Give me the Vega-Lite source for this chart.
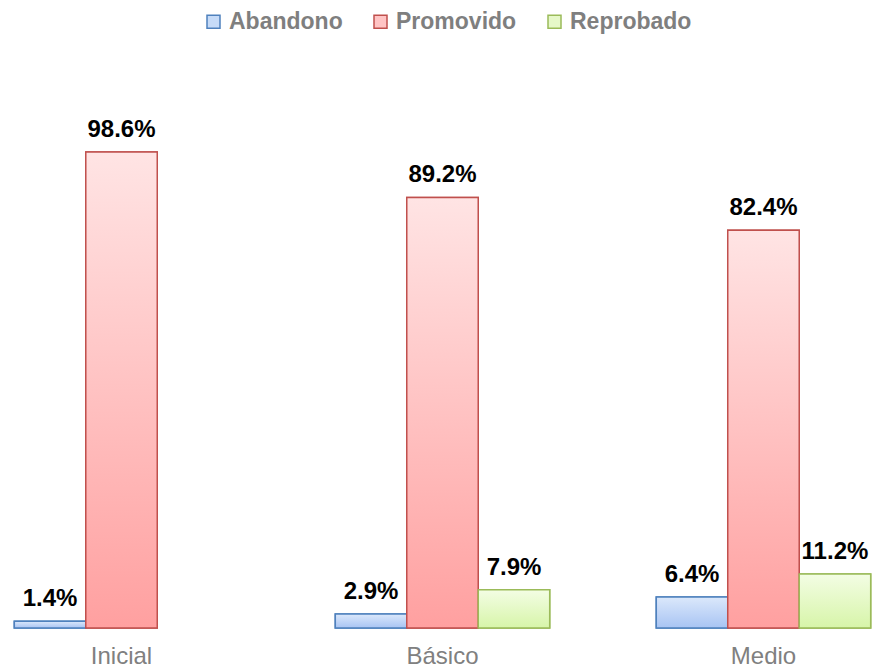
{
  "$schema": "https://vega.github.io/schema/vega-lite/v6.json",
  "autosize": "none",
  "padding": {"left": 5, "top": 97, "right": 0, "bottom": 43},
  "width": 875,
  "height": 531,
  "config": {
    "view": {"stroke": null},
    "font": "Liberation Sans"
  },
  "data": {
    "values": [
      {"nivel": "Inicial", "serie": "Abandono", "valor": 1.4, "label": "1.4%"},
      {"nivel": "Inicial", "serie": "Promovido", "valor": 98.6, "label": "98.6%"},
      {"nivel": "Básico", "serie": "Abandono", "valor": 2.9, "label": "2.9%"},
      {"nivel": "Básico", "serie": "Promovido", "valor": 89.2, "label": "89.2%"},
      {"nivel": "Básico", "serie": "Reprobado", "valor": 7.9, "label": "7.9%"},
      {"nivel": "Medio", "serie": "Abandono", "valor": 6.4, "label": "6.4%"},
      {"nivel": "Medio", "serie": "Promovido", "valor": 82.4, "label": "82.4%"},
      {"nivel": "Medio", "serie": "Reprobado", "valor": 11.2, "label": "11.2%"}
    ]
  },
  "encoding": {
    "x": {
      "field": "nivel", "type": "nominal", "sort": ["Inicial", "Básico", "Medio"],
      "scale": {"paddingInner": 0.332, "paddingOuter": 0.029},
      "axis": {"title": null, "domain": false, "ticks": false, "labelAngle": 0, "labelFontSize": 24, "labelColor": "#808080", "labelPadding": 16}
    },
    "xOffset": {"field": "serie", "type": "nominal", "sort": ["Abandono", "Promovido", "Reprobado"], "scale": {"domain": ["Abandono", "Promovido", "Reprobado"], "paddingInner": 0, "paddingOuter": 0}},
    "y": {"field": "valor", "type": "quantitative", "scale": {"domain": [0, 110], "nice": false}, "axis": null}
  },
  "layer": [
    {
      "mark": {"type": "bar", "strokeWidth": 1.5},
      "encoding": {
        "fill": {
          "field": "serie", "type": "nominal",
          "scale": {"domain": ["Abandono", "Promovido", "Reprobado"], "range": ["#c6dbf8", "#ffc4c4", "#e6f8c8"]},
          "legend": {"title": null, "orient": "none", "direction": "horizontal", "legendX": 197, "legendY": -87, "symbolType": "square", "symbolSize": 169, "symbolStrokeWidth": 1.5, "labelFontSize": 23, "labelFontWeight": "bold", "labelColor": "#7f7f7f", "labelOffset": 4, "columnPadding": 26}
        },
        "stroke": {
          "field": "serie", "type": "nominal",
          "scale": {"domain": ["Abandono", "Promovido", "Reprobado"], "range": ["#4f81bd", "#c0504d", "#9bbb59"]},
          "legend": {"title": null, "orient": "none", "direction": "horizontal", "legendX": 197, "legendY": -87, "symbolType": "square", "symbolSize": 169, "symbolStrokeWidth": 1.5, "labelFontSize": 23, "labelFontWeight": "bold", "labelColor": "#7f7f7f", "labelOffset": 4, "columnPadding": 26}
        }
      }
    },
    {
      "transform": [{"filter": "datum.serie === 'Abandono'"}],
      "mark": {"type": "bar", "stroke": "#4f81bd", "strokeWidth": 1.5,
        "fill": {"gradient": "linear", "x1": 0, "y1": 0, "x2": 0, "y2": 1, "stops": [{"offset": 0, "color": "#dbe8fb"}, {"offset": 1, "color": "#a8c4f3"}]}},
      "encoding": {}
    },
    {
      "transform": [{"filter": "datum.serie === 'Promovido'"}],
      "mark": {"type": "bar", "stroke": "#c0504d", "strokeWidth": 1.5,
        "fill": {"gradient": "linear", "x1": 0, "y1": 0, "x2": 0, "y2": 1, "stops": [{"offset": 0, "color": "#ffe4e4"}, {"offset": 1, "color": "#ffa0a0"}]}},
      "encoding": {}
    },
    {
      "transform": [{"filter": "datum.serie === 'Reprobado'"}],
      "mark": {"type": "bar", "stroke": "#9bbb59", "strokeWidth": 1.5,
        "fill": {"gradient": "linear", "x1": 0, "y1": 0, "x2": 0, "y2": 1, "stops": [{"offset": 0, "color": "#f3fde4"}, {"offset": 1, "color": "#d7f5a9"}]}},
      "encoding": {}
    },
    {
      "mark": {"type": "text", "baseline": "alphabetic", "dy": -15, "fontSize": 24, "fontWeight": "bold", "color": "#000000"},
      "encoding": {"text": {"field": "label", "type": "nominal"}}
    }
  ]
}
